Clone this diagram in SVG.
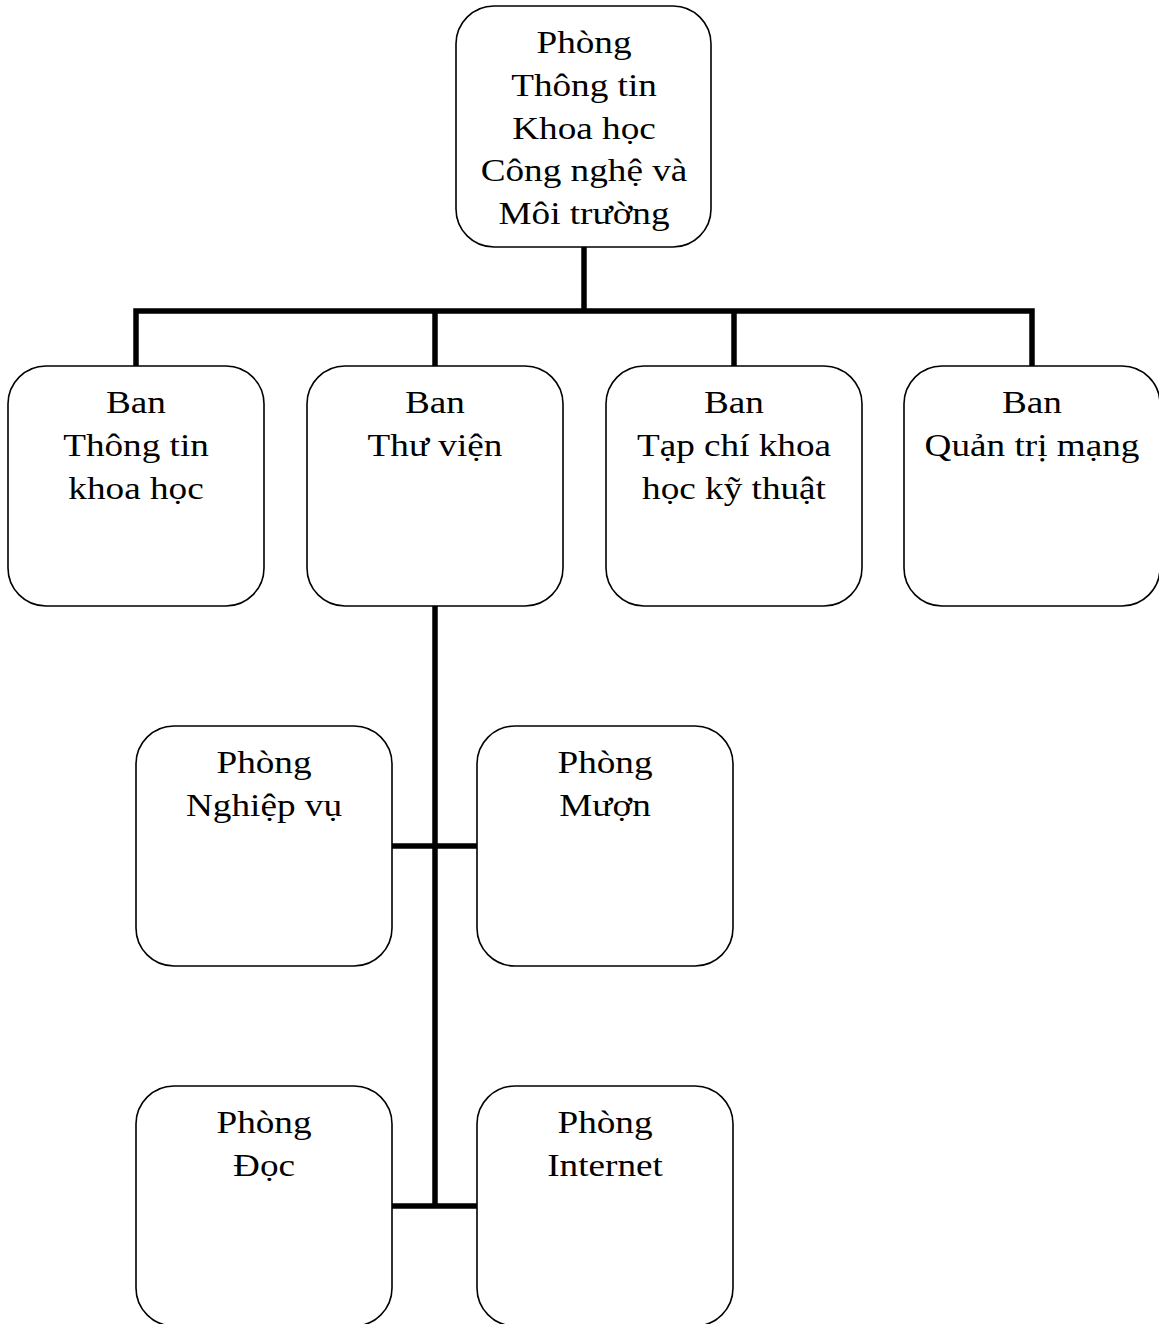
<svg xmlns="http://www.w3.org/2000/svg" width="1159" height="1324" viewBox="0 0 1159 1324">
  <style>
    .box { fill: #ffffff; stroke: #000000; stroke-width: 1.6; }
    .lbl { font-family: "Liberation Serif", "Times New Roman", serif; font-size: 31px; fill: #000000; text-anchor: middle; }
    .wire { fill: none; stroke: #000000; stroke-width: 5.5; stroke-linecap: butt; stroke-linejoin: miter; }
  </style>
  <rect width="1159" height="1324" fill="#ffffff"/>

  <!-- connectors -->
  <g id="connectors">
    <path class="wire" d="M584 247 V311"/>
    <path class="wire" d="M136 367 V311 H1032 V367"/>
    <path class="wire" d="M435 311 V367"/>
    <path class="wire" d="M734 311 V367"/>
    <path class="wire" d="M435 606 V1208"/>
    <path class="wire" d="M392 846 H477"/>
    <path class="wire" d="M392 1206 H477"/>
  </g>

  <!-- top level -->
  <g id="node-phong-ttkhcn">
    <rect class="box" x="456" y="6" width="255" height="241" rx="38"/>
    <text class="lbl" transform="translate(584 0) scale(1.2 1)"><tspan x="0" y="53">Phòng</tspan><tspan x="0" y="96">Thông tin</tspan><tspan x="0" y="139">Khoa học</tspan><tspan x="0" y="181">Công nghệ và</tspan><tspan x="0" y="224">Môi trường</tspan></text>
  </g>

  <!-- departments -->
  <g id="node-ban-ttkh">
    <rect class="box" x="8" y="366" width="256" height="240" rx="38"/>
    <text class="lbl" transform="translate(136 0) scale(1.2 1)"><tspan x="0" y="413">Ban</tspan><tspan x="0" y="456">Thông tin</tspan><tspan x="0" y="499">khoa học</tspan></text>
  </g>
  <g id="node-ban-thu-vien">
    <rect class="box" x="307" y="366" width="256" height="240" rx="38"/>
    <text class="lbl" transform="translate(435 0) scale(1.2 1)"><tspan x="0" y="413">Ban</tspan><tspan x="0" y="456">Thư viện</tspan></text>
  </g>
  <g id="node-ban-tap-chi">
    <rect class="box" x="606" y="366" width="256" height="240" rx="38"/>
    <text class="lbl" transform="translate(734 0) scale(1.2 1)"><tspan x="0" y="413">Ban</tspan><tspan x="0" y="456">Tạp chí khoa</tspan><tspan x="0" y="499">học kỹ thuật</tspan></text>
  </g>
  <g id="node-ban-qtm">
    <rect class="box" x="904" y="366" width="256" height="240" rx="38"/>
    <text class="lbl" transform="translate(1032 0) scale(1.2 1)"><tspan x="0" y="413">Ban</tspan><tspan x="0" y="456">Quản trị mạng</tspan></text>
  </g>

  <!-- library rooms -->
  <g id="node-phong-nghiep-vu">
    <rect class="box" x="136" y="726" width="256" height="240" rx="38"/>
    <text class="lbl" transform="translate(264 0) scale(1.2 1)"><tspan x="0" y="773">Phòng</tspan><tspan x="0" y="816">Nghiệp vụ</tspan></text>
  </g>
  <g id="node-phong-muon">
    <rect class="box" x="477" y="726" width="256" height="240" rx="38"/>
    <text class="lbl" transform="translate(605 0) scale(1.2 1)"><tspan x="0" y="773">Phòng</tspan><tspan x="0" y="816">Mượn</tspan></text>
  </g>
  <g id="node-phong-doc">
    <rect class="box" x="136" y="1086" width="256" height="240" rx="38"/>
    <text class="lbl" transform="translate(264 0) scale(1.2 1)"><tspan x="0" y="1133">Phòng</tspan><tspan x="0" y="1176">Đọc</tspan></text>
  </g>
  <g id="node-phong-internet">
    <rect class="box" x="477" y="1086" width="256" height="240" rx="38"/>
    <text class="lbl" transform="translate(605 0) scale(1.2 1)"><tspan x="0" y="1133">Phòng</tspan><tspan x="0" y="1176">Internet</tspan></text>
  </g>
</svg>
